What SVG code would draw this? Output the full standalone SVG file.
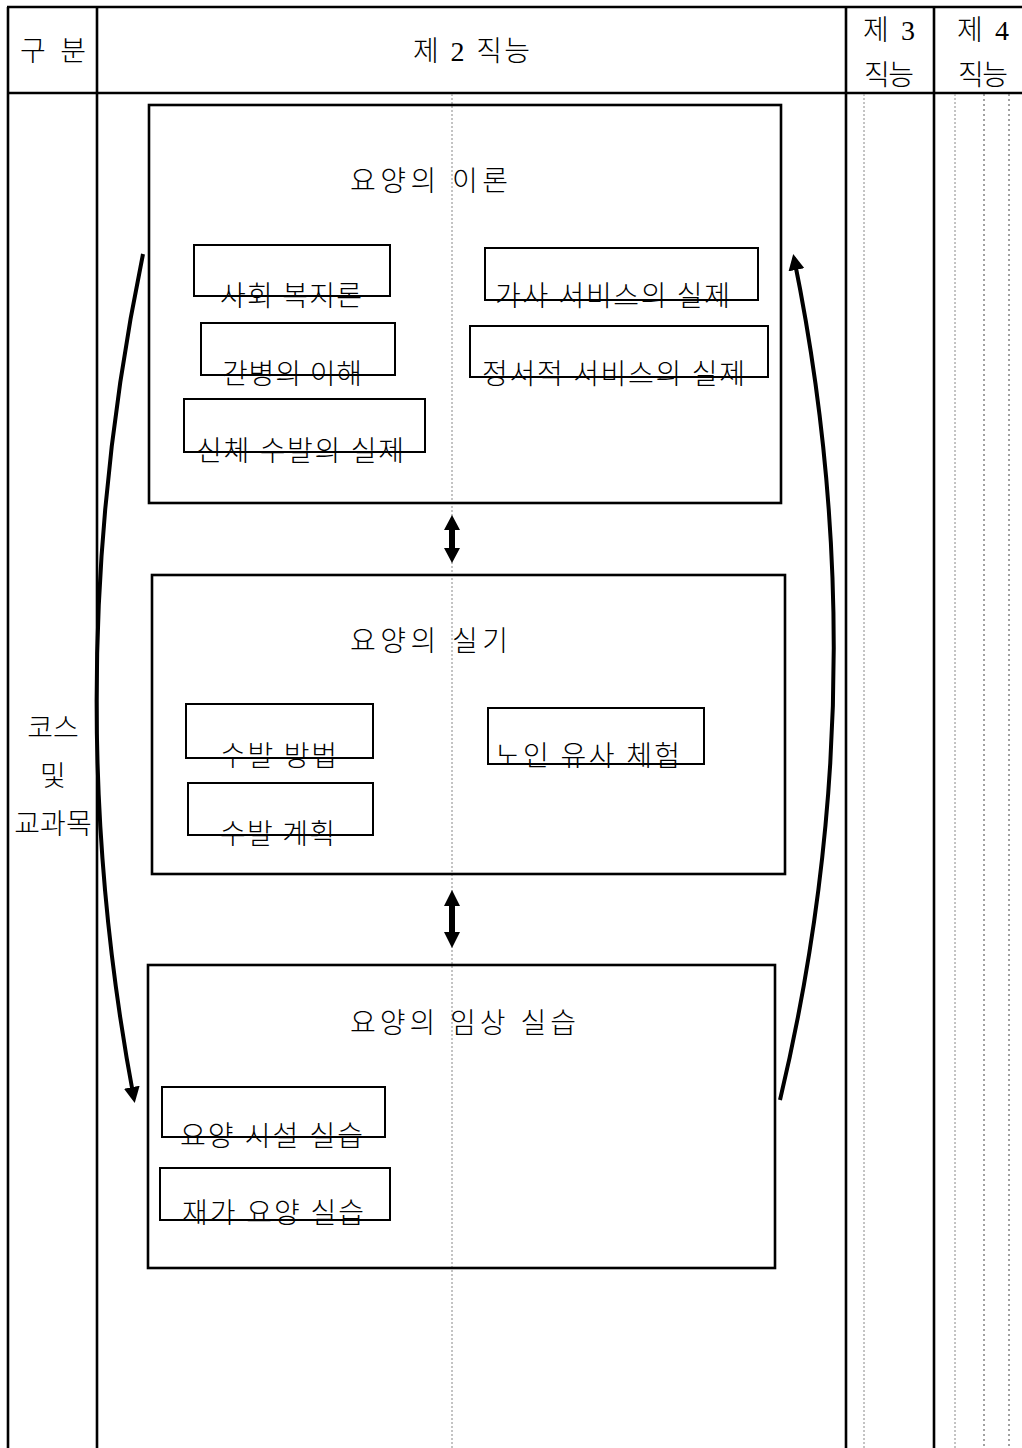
<svg xmlns="http://www.w3.org/2000/svg" width="1022" height="1448" viewBox="0 0 1022 1448">
<style>
text{font-family:"Liberation Serif","Noto Sans CJK KR",serif;fill:#000;font-size:28px;font-weight:300}
.tl{stroke:#000;stroke-width:2.6;fill:none}
.dot{stroke:#888;stroke-width:1;stroke-dasharray:2 2;fill:none}
.dotd{stroke:#444;stroke-width:1;stroke-dasharray:2 3;fill:none}
.box{fill:none;stroke:#000;stroke-width:2.6}
.sub{fill:none;stroke:#000;stroke-width:2}
.c{text-anchor:middle}
.conn{fill:none;stroke:#000;stroke-width:4}
</style>
<defs>
<marker id="ah" markerWidth="4" markerHeight="4" refX="3" refY="2" orient="auto" markerUnits="strokeWidth">
<path d="M0,0 L4,2 L0,4 Z" fill="#000"/>
</marker>
</defs>
<rect width="1022" height="1448" fill="#fff"/>
<g id="table">
<line class="tl" x1="7" y1="7" x2="1022" y2="7"/>
<line class="tl" x1="8" y1="7" x2="8" y2="1448"/>
<line class="tl" x1="97" y1="7" x2="97" y2="1448"/>
<line class="tl" x1="846" y1="7" x2="846" y2="1448"/>
<line class="tl" x1="934" y1="7" x2="934" y2="1448"/>
<line class="tl" x1="7" y1="93" x2="1022" y2="93"/>
<line class="dot" x1="452" y1="94" x2="452" y2="1448"/>
<line class="dot" x1="864" y1="94" x2="864" y2="1448"/>
<line class="dot" x1="955" y1="94" x2="955" y2="1448"/>
<line class="dotd" x1="984" y1="94" x2="984" y2="1448"/>
<line class="dotd" x1="1009" y1="94" x2="1009" y2="1448"/>
<text x="20" y="61" textLength="66">구 분</text>
<text x="413" y="61" textLength="117">제 2 직능</text>
<text x="863" y="40" textLength="52">제 3</text>
<text x="864" y="85" textLength="50">직능</text>
<text x="957" y="40" textLength="52">제 4</text>
<text x="958" y="85" textLength="50">직능</text>
<text class="c" x="53" y="738">코스</text>
<text class="c" x="53" y="786">및</text>
<text class="c" x="53" y="834">교과목</text>
</g>
<g id="theory">
<rect class="box" x="149" y="105" width="632" height="398"/>
<text x="350" y="191" textLength="158">요양의  이론</text>
</g>
<g id="n1"><rect class="sub" x="194" y="245" width="196" height="51"/><text x="220" y="306" textLength="142">사회  복지론</text></g>
<g id="n2"><rect class="sub" x="201" y="323" width="194" height="52"/><text x="222" y="384" textLength="140">간병의  이해</text></g>
<g id="n3"><rect class="sub" x="184" y="399" width="241" height="53"/><text x="196" y="461" textLength="208">신체  수발의  실제</text></g>
<g id="n4"><rect class="sub" x="485" y="248" width="273" height="52"/><text x="495" y="306" textLength="235">가사  서비스의  실제</text></g>
<g id="n5"><rect class="sub" x="470" y="326" width="298" height="51"/><text x="482" y="384" textLength="263">정서적  서비스의  실제</text></g>
<g id="practice">
<rect class="box" x="152" y="575" width="633" height="299"/>
<text x="350" y="651" textLength="158">요양의  실기</text>
</g>
<g id="n6"><rect class="sub" x="186" y="704" width="187" height="54"/><text x="220" y="766" textLength="117">수발  방법</text></g>
<g id="n7"><rect class="sub" x="188" y="783" width="185" height="52"/><text x="220" y="844" textLength="115">수발  계획</text></g>
<g id="n8"><rect class="sub" x="488" y="708" width="216" height="56"/><text x="495" y="766" textLength="185">노인  유사  체험</text></g>
<g id="clinical">
<rect class="box" x="148" y="965" width="627" height="303"/>
<text x="350" y="1033" textLength="226">요양의  임상  실습</text>
</g>
<g id="n9"><rect class="sub" x="162" y="1087" width="223" height="50"/><text x="180" y="1146" textLength="183">요양  시설  실습</text></g>
<g id="n10"><rect class="sub" x="160" y="1168" width="230" height="52"/><text x="182" y="1223" textLength="182">재가  요양  실습</text></g>
<g id="connectors">
<path d="M452,515 L460,530 L455,530 L455,548 L460,548 L452,563 L444,548 L449,548 L449,530 L444,530 Z" fill="#000"/>
<path d="M452,890 L460,906 L455,906 L455,932 L460,932 L452,948 L444,932 L449,932 L449,906 L444,906 Z" fill="#000"/>
<path class="conn" d="M143,254 Q55,680 134,1099" marker-end="url(#ah)"/>
<path class="conn" d="M780,1100 Q880,680 794,258" marker-end="url(#ah)"/>
</g>
</svg>
